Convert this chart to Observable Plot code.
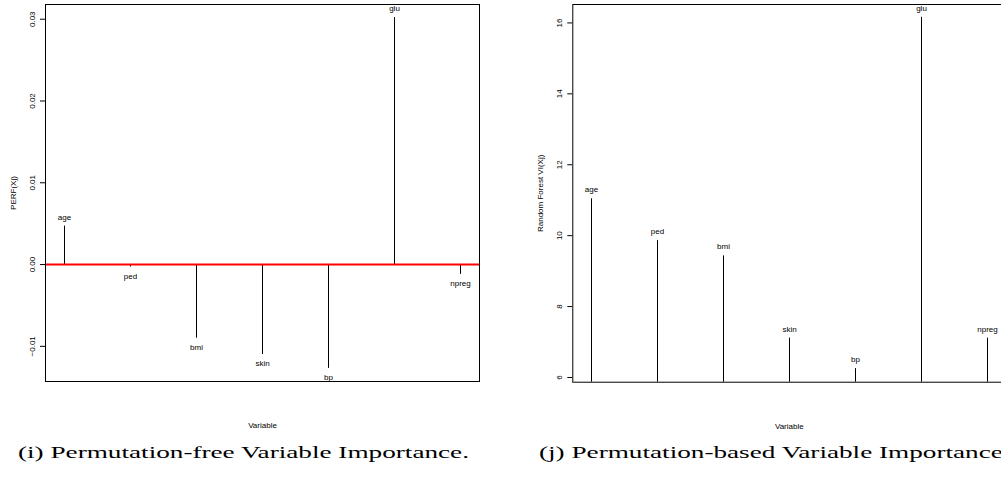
<!DOCTYPE html>
<html><head><meta charset="utf-8">
<script src="https://cdn.jsdelivr.net/npm/d3@7"></script>
<script src="https://cdn.jsdelivr.net/npm/@observablehq/plot@0.6"></script>
<style>
html,body{margin:0;padding:0;background:#fff;overflow:hidden;}
#wrap{position:relative;width:1001px;height:477px;overflow:hidden;background:#fff;}
.panel{position:absolute;top:0;}
.panel svg{max-width:none !important;}
.cap{position:absolute;top:445px;font-family:"Liberation Serif","Times New Roman",serif;font-size:16.5px;line-height:16.5px;white-space:nowrap;transform-origin:0 0;color:#000;}
</style></head><body>
<div id="wrap">
<div id="p1" class="panel" style="left:0;width:500px"></div>
<div id="p2" class="panel" style="left:500px;width:510px"></div>
<div id="c1" class="cap" style="left:18px">(i) Permutation-free Variable Importance.</div>
<div id="c2" class="cap" style="left:539px">(j) Permutation-based Variable Importance.</div>
</div>
<script>
const variables = ["age", "ped", "bmi", "skin", "bp", "glu", "npreg"];
const perfValues = [0.0047, -0.0003, -0.0090, -0.0110, -0.0127, 0.0302, -0.0012];
const rfValues = [11.04, 9.86, 9.43, 7.11, 6.25, 16.16, 7.11];
const perfTicks = [-0.01, 0, 0.01, 0.02, 0.03];
const rfTicks = [6, 8, 10, 12, 14, 16];
const perfDomain = [-0.0143, 0.0318];
const rfDomain = [5.867, 16.52];

const perfData = variables.map((v, i) => ({variable: v, value: perfValues[i]}));
const rfData = variables.map((v, i) => ({variable: v, value: rfValues[i]}));

const font = "'Liberation Sans', Arial, Helvetica, sans-serif";
const style = {fontFamily: font, fontSize: "8px", background: "transparent", color: "#000", overflow: "visible", maxWidth: "none"};
const fmtPerf = d3.format(".2f");

const p1 = Plot.plot({
  width: 500, height: 440,
  marginLeft: 45, marginRight: 21, marginTop: 4, marginBottom: 59,
  style,
  x: {type: "point", domain: variables, padding: 0.24, axis: null},
  y: {domain: perfDomain, axis: null},
  marks: [
    Plot.axisY(perfTicks, {anchor: "left", tickSize: 5, tickFormat: () => "", label: null, stroke: "#000"}),
    Plot.text(perfTicks, {y: d => d, frameAnchor: "left", dx: -13, rotate: -90, text: d => fmtPerf(d), textAnchor: "middle", lineAnchor: "middle", fill: "#000"}),
    Plot.ruleX(perfData, {x: "variable", y1: 0, y2: "value", stroke: "#000", strokeWidth: 1}),
    Plot.ruleY([0], {stroke: "#ff0000", strokeWidth: 2}),
    Plot.text(perfData, {filter: d => d.value >= 0, x: "variable", y: "value", text: "variable", dy: -9, lineAnchor: "middle", fill: "#000"}),
    Plot.text(perfData, {filter: d => d.value < 0, x: "variable", y: "value", text: "variable", dy: 9, lineAnchor: "middle", fill: "#000"}),
    Plot.text(["PERF(Xj)"], {frameAnchor: "left", dx: -32.5, rotate: -90, text: d => d, textAnchor: "middle", lineAnchor: "middle", fill: "#000"}),
    Plot.text(["Variable"], {frameAnchor: "bottom", dy: 44, text: d => d, textAnchor: "middle", lineAnchor: "middle", fill: "#000"}),
    Plot.frame({stroke: "#000", strokeWidth: 1})
  ]
});
document.getElementById("p1").appendChild(p1);

const p2 = Plot.plot({
  width: 510, height: 440,
  marginLeft: 72.3, marginRight: 4.7, marginTop: 4, marginBottom: 58.3,
  style,
  x: {type: "point", domain: variables, padding: 0.24, axis: null},
  y: {domain: rfDomain, axis: null},
  marks: [
    Plot.axisY(rfTicks, {anchor: "left", tickSize: 5, tickFormat: () => "", label: null, stroke: "#000"}),
    Plot.text(rfTicks, {y: d => d, frameAnchor: "left", dx: -13.3, rotate: -90, text: d => String(d), textAnchor: "middle", lineAnchor: "middle", fill: "#000"}),
    Plot.ruleX(rfData, {x: "variable", y1: rfDomain[0], y2: "value", stroke: "#000", strokeWidth: 1}),
    Plot.text(rfData, {x: "variable", y: "value", text: "variable", dy: -9, lineAnchor: "middle", fill: "#000"}),
    Plot.text(["Random Forest VI(Xj)"], {frameAnchor: "left", dx: -32.3, rotate: -90, text: d => d, textAnchor: "middle", lineAnchor: "middle", fill: "#000"}),
    Plot.text(["Variable"], {frameAnchor: "bottom", dy: 44, text: d => d, textAnchor: "middle", lineAnchor: "middle", fill: "#000"}),
    Plot.frame({stroke: "#000", strokeWidth: 1})
  ]
});
document.getElementById("p2").appendChild(p2);

// stretch captions horizontally to the reference width
const c1 = document.getElementById("c1"), c2 = document.getElementById("c2");
const w = c1.getBoundingClientRect().width;
const s = 451 / w;
c1.style.transform = `scaleX(${s})`;
c2.style.transform = `scaleX(${s})`;
</script>
</body></html>
